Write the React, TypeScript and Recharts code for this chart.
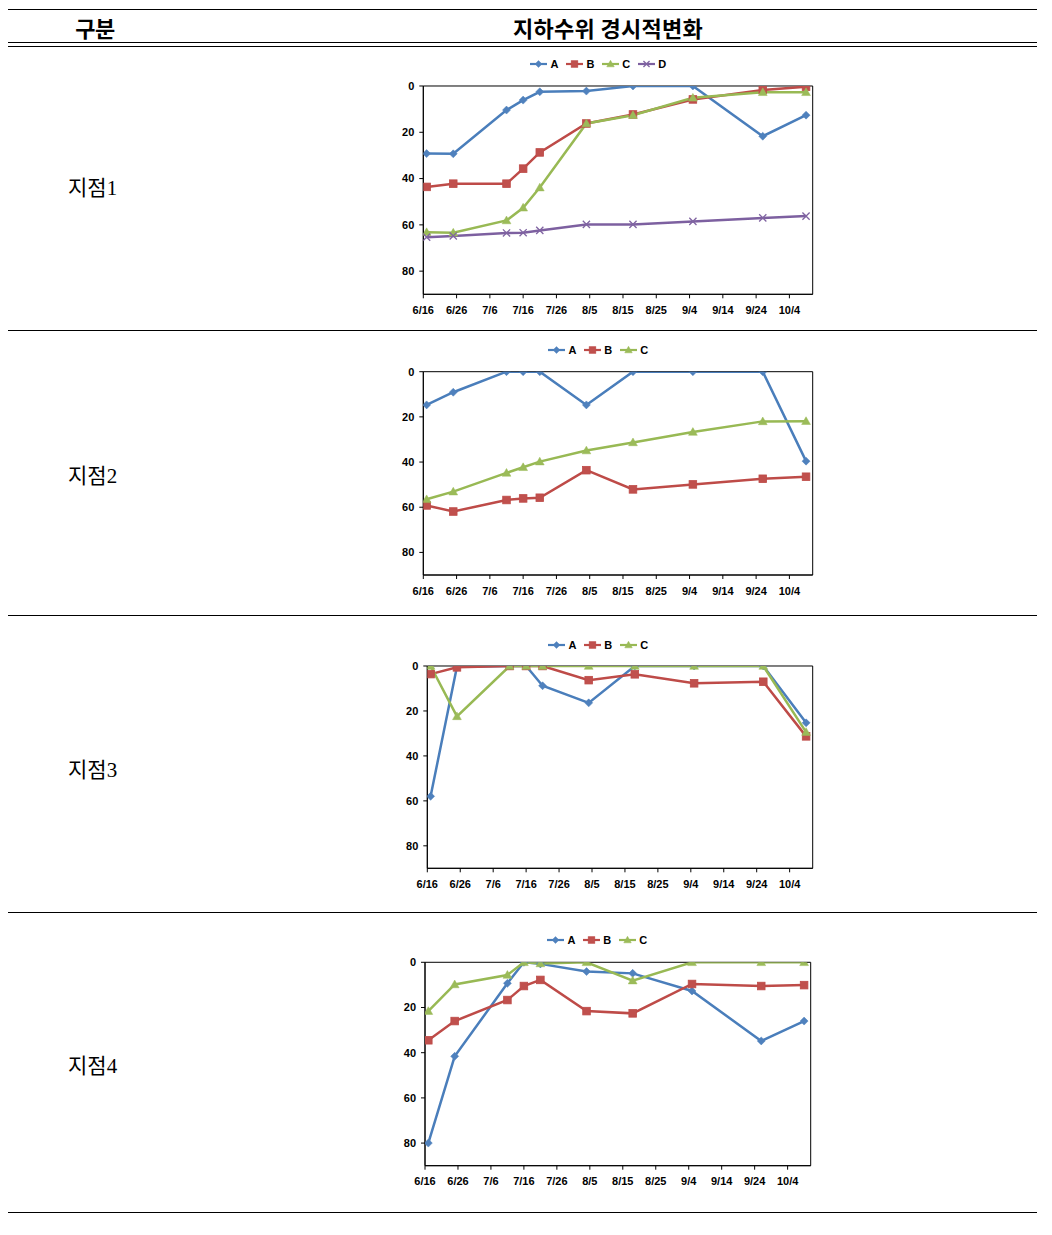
import React from 'react';
import { LineChart, Line, XAxis, YAxis, Legend, ReferenceArea } from 'recharts';

// ---- data ----
const sampleDates = ['6/17', '6/25', '7/11', '7/16', '7/21', '8/4', '8/18', '9/5', '9/26', '10/9'];
const tickLabels = ['6/16', '6/26', '7/6', '7/16', '7/26', '8/5', '8/15', '8/25', '9/4', '9/14', '9/24', '10/4'];
const axisStart = '6/16';
const axisEnd = '10/11';
const depthTicks = [0, 20, 40, 60, 80];
const depthMax = 90;

const headerLeft = '구분';
const headerRight = '지하수위 경시적변화';
const siteLabels = ['지점1', '지점2', '지점3', '지점4'];

const site1A = [29.2, 29.3, 10.4, 6.1, 2.5, 2.2, 0, 0, 21.7, 12.6];
const site1B = [43.6, 42.2, 42.2, 35.7, 28.7, 16.2, 12.3, 5.8, 1.7, 0.3];
const site1C = [63.2, 63.4, 58.1, 52.6, 43.9, 16.2, 12.6, 5.1, 2.7, 2.7];
const site1D = [65.3, 64.8, 63.5, 63.4, 62.4, 59.8, 59.8, 58.5, 57.0, 56.2];

const site2A = [14.7, 9.1, 0, 0, 0, 14.7, 0, 0, 0, 39.6];
const site2B = [59.2, 61.9, 56.8, 56.1, 55.8, 43.6, 52.1, 49.9, 47.4, 46.5];
const site2C = [56.5, 53.1, 44.8, 42.3, 39.8, 34.9, 31.3, 26.7, 22.0, 21.9];

const site3A = [58.0, 0.3, 0, 0, 8.8, 16.4, 0, 0, 0, 25.3];
const site3B = [3.6, 0.6, 0, 0, 0, 6.3, 3.7, 7.7, 7.0, 31.3];
const site3C = [0, 22.4, 0, 0, 0, 0, 0, 0, 0, 29.4];

const site4A = [80, 41.6, 9.3, 0, 0.7, 4.1, 4.9, 12.7, 34.8, 26.0];
const site4B = [34.5, 26.0, 16.7, 10.5, 7.8, 21.6, 22.6, 9.6, 10.5, 10.1];
const site4C = [21.6, 9.8, 5.6, 0, 0.5, 0, 8.1, 0, 0, 0];

const seriesNames = ['A', 'B', 'C', 'D'];
const siteSeries = [
  [site1A, site1B, site1C, site1D],
  [site2A, site2B, site2C],
  [site3A, site3B, site3C],
  [site4A, site4B, site4C],
];

// ---- styles ----
const seriesStyle: Record<string, { line: string; marker: string; shape: string }> = {
  A: { line: '#4A7EBB', marker: '#4F81BD', shape: 'diamond' },
  B: { line: '#BE4B48', marker: '#C0504D', shape: 'square' },
  C: { line: '#98B954', marker: '#9BBB59', shape: 'triangle' },
  D: { line: '#7D60A0', marker: '#8064A2', shape: 'cross' },
};

const chartLayout = [
  { top: 52, plotTop: 86, plotBottom: 294.3, plotLeft: 423.3, plotRight: 812.7 },
  { top: 338, plotTop: 371.7, plotBottom: 575, plotLeft: 423.3, plotRight: 812.7 },
  { top: 633, plotTop: 666, plotBottom: 868.3, plotLeft: 427.3, plotRight: 812.7 },
  { top: 928, plotTop: 962.3, plotBottom: 1165.7, plotLeft: 425, plotRight: 810.7 },
];
const chartLeft = 390;
const chartRight = 830;
const labelY = [188, 476, 770, 1066];
const rowLines = [330, 615, 912, 1212];

function dayOf(md: string) {
  const [m, d] = md.split('/').map(Number);
  const [m0, d0] = axisStart.split('/').map(Number);
  return Math.round((Date.UTC(2000, m - 1, d) - Date.UTC(2000, m0 - 1, d0)) / 86400000);
}

const tickDays = tickLabels.map(dayOf);
const tickLabelByDay: Record<number, string> = {};
tickLabels.forEach((t) => { tickLabelByDay[dayOf(t)] = t; });
const domainEnd = dayOf(axisEnd);

function markerShape(shape: string, cx: number, cy: number, fill: string, stroke: string, key?: any, s = 1) {
  if (cx == null || cy == null || isNaN(cx) || isNaN(cy)) return <g key={key} />;
  if (shape === 'diamond') {
    const r = 4 * s;
    return <path key={key} d={`M${cx},${cy - r}L${cx + r},${cy}L${cx},${cy + r}L${cx - r},${cy}Z`} fill={fill} stroke={fill} strokeWidth={0.5} />;
  }
  if (shape === 'square') {
    const r = 3.8 * s;
    return <rect key={key} x={cx - r} y={cy - r} width={2 * r} height={2 * r} fill={fill} stroke={stroke} strokeWidth={0.8} />;
  }
  if (shape === 'triangle') {
    const r = 4.4 * s;
    return <path key={key} d={`M${cx},${cy - r}L${cx + r},${cy + r * 0.75}L${cx - r},${cy + r * 0.75}Z`} fill={fill} stroke={fill} strokeWidth={0.5} />;
  }
  const r = 3.6 * s;
  return <path key={key} d={`M${cx - r},${cy - r}L${cx + r},${cy + r}M${cx - r},${cy + r}L${cx + r},${cy - r}`} stroke={fill} strokeWidth={1.3} fill="none" />;
}

const tickFont = { fontFamily: "'Liberation Sans', Arial, sans-serif", fontSize: 11, fontWeight: 700, fill: '#000' };

function LegendContent({ names, height }: { names: string[]; height: number }) {
  return (
    <div style={{ height, display: 'flex', justifyContent: 'center', alignItems: 'flex-start' }}>
      <div style={{ display: 'flex', alignItems: 'center', height: 20 }}>
        {names.map((n) => {
          const st = seriesStyle[n];
          return (
            <div key={n} style={{ display: 'flex', alignItems: 'center', marginRight: 7 }}>
              <svg width={19} height={10}>
                <line x1={1} y1={5} x2={18} y2={5} stroke={st.line} strokeWidth={2.2} />
                {markerShape(st.shape, 9.5, 5, st.marker, st.line, undefined, 0.85)}
              </svg>
              <span style={{ fontFamily: "'Liberation Sans', Arial, sans-serif", fontSize: 11, fontWeight: 700, marginLeft: 2, color: '#000' }}>{n}</span>
            </div>
          );
        })}
      </div>
    </div>
  );
}

function SiteChart({ idx }: { idx: number }) {
  const lay = chartLayout[idx];
  const series = siteSeries[idx];
  const names = seriesNames.slice(0, series.length);
  const data = sampleDates.map((d, i) => {
    const row: Record<string, number> = { day: dayOf(d) };
    names.forEach((n, k) => { row[n] = series[k][i]; });
    return row;
  });
  const legendH = lay.plotTop - lay.top - 2;
  const height = lay.plotBottom + 32 - lay.top;
  const width = chartRight - chartLeft;
  const yWidth = lay.plotLeft - chartLeft;
  return (
    <div style={{ position: 'absolute', left: chartLeft, top: lay.top }}>
      <LineChart width={width} height={height} data={data} margin={{ top: 2, right: chartRight - lay.plotRight, bottom: 2, left: 0 }}>
        <Legend verticalAlign="top" align="center" content={() => <LegendContent names={names} height={legendH} />} />
        <XAxis
          dataKey="day"
          type="number"
          domain={[0, domainEnd]}
          ticks={tickDays}
          tickFormatter={(v: number) => tickLabelByDay[v] ?? ''}
          interval={0}
          height={30}
          tickSize={4}
          tickMargin={8}
          tick={tickFont}
          axisLine={{ stroke: '#000', strokeWidth: 1 }}
          tickLine={{ stroke: '#000', strokeWidth: 1 }}
          allowDataOverflow
        />
        <YAxis
          type="number"
          reversed
          domain={[0, depthMax]}
          ticks={depthTicks}
          interval={0}
          width={yWidth}
          tickSize={4}
          tickMargin={5}
          tick={tickFont}
          axisLine={{ stroke: '#000', strokeWidth: 1 }}
          tickLine={{ stroke: '#000', strokeWidth: 1 }}
          allowDataOverflow
        />
        <ReferenceArea x1={0} x2={domainEnd} y1={0} y2={depthMax} fill="none" fillOpacity={0} stroke="#000" strokeWidth={1} ifOverflow="visible" />
        {names.map((n) => {
          const st = seriesStyle[n];
          return (
            <Line
              key={n}
              dataKey={n}
              type="linear"
              stroke={st.line}
              strokeWidth={2.5}
              isAnimationActive={false}
              dot={(p: any) => markerShape(st.shape, p.cx, p.cy, st.marker, st.line, p.key ?? `${n}-${p.index}`)}
              activeDot={false}
            />
          );
        })}
      </LineChart>
    </div>
  );
}

export default function App() {
  const hFont = "'Noto Sans CJK KR', 'Noto Sans', sans-serif";
  const lFont = "'Liberation Serif', 'Noto Sans CJK KR', serif";
  return (
    <div style={{ position: 'absolute', left: 0, top: 0, width: 1052, height: 1235, background: '#fff' }}>
      <div style={{ position: 'absolute', left: 8, width: 1029, top: 9, borderTop: '1px solid #000' }} />
      <div style={{ position: 'absolute', left: 8, width: 1029, top: 42, borderTop: '1px solid #000' }} />
      <div style={{ position: 'absolute', left: 8, width: 1029, top: 46, borderTop: '1px solid #000' }} />
      {rowLines.map((y, i) => (
        <div key={i} style={{ position: 'absolute', left: 8, width: 1029, top: y, borderTop: '1px solid #000' }} />
      ))}
      <div style={{ position: 'absolute', left: 45, width: 100, top: 12, height: 30, lineHeight: '30px', textAlign: 'center', fontFamily: hFont, fontWeight: 700, fontSize: 22, letterSpacing: -0.5, color: '#000' }}>{headerLeft}</div>
      <div style={{ position: 'absolute', left: 408, width: 400, top: 12, height: 30, lineHeight: '30px', textAlign: 'center', fontFamily: hFont, fontWeight: 700, fontSize: 22, letterSpacing: 0.3, color: '#000' }}>{headerRight}</div>
      {siteLabels.map((t, i) => (
        <div key={t} style={{ position: 'absolute', left: 68, top: labelY[i] - 14, height: 28, lineHeight: '28px', fontFamily: lFont, fontSize: 21, color: '#000' }}>{t}</div>
      ))}
      {chartLayout.map((_, i) => <SiteChart key={i} idx={i} />)}
    </div>
  );
}
